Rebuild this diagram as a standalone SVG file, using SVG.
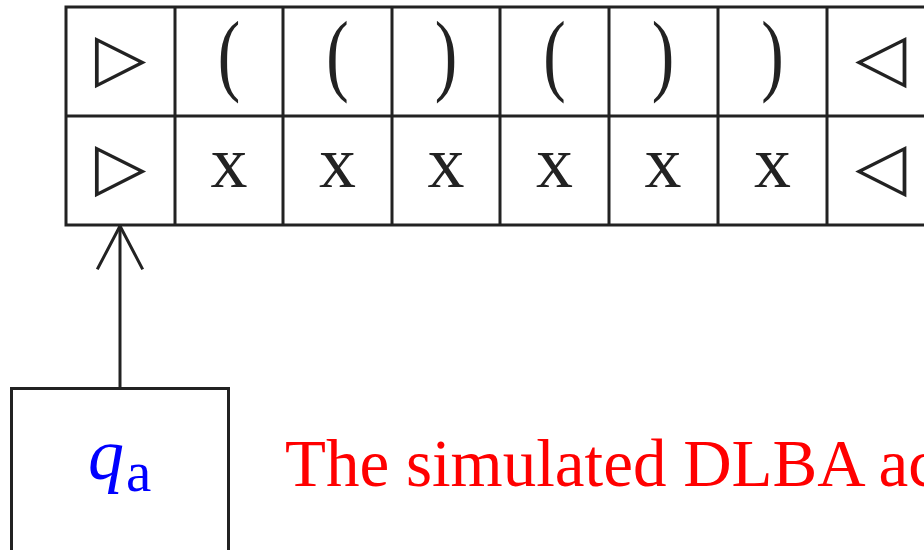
<svg xmlns="http://www.w3.org/2000/svg" width="924" height="550" viewBox="0 0 924 550">
<style>
.ln{stroke:#222;stroke-width:3;fill:none;stroke-linecap:square}
.sym{font-family:"DejaVu Sans",sans-serif;font-size:67px;fill:#222;text-anchor:middle}
.par{font-family:"Liberation Serif",serif;font-size:90px;fill:#222;text-anchor:middle}
.xx{font-family:"Liberation Serif",serif;font-size:74px;fill:#222;text-anchor:middle}
.q{font-family:"Liberation Serif",serif;fill:#0000ff}
.msg{font-family:"Liberation Serif",serif;font-size:67px;fill:#ff0000}
</style>
<rect width="924" height="550" fill="#fff"/>
<g id="tape">
<path class="ln" d="M66,7H926M66,116H926M66,225H926M66,7V225M175,7V225M283,7V225M392,7V225M500,7V225M609,7V225M718,7V225M827,7V225"/>
<g id="row1">
<text class="sym" x="120.5" y="80">▷</text>
<text class="par" transform="translate(229,84) scale(0.75,1)">(</text>
<text class="par" transform="translate(337.5,84) scale(0.75,1)">(</text>
<text class="par" transform="translate(446,84) scale(0.75,1)">)</text>
<text class="par" transform="translate(554.5,84) scale(0.75,1)">(</text>
<text class="par" transform="translate(663,84) scale(0.75,1)">)</text>
<text class="par" transform="translate(772.5,84) scale(0.75,1)">)</text>
<text class="sym" x="881" y="80">◁</text>
</g>
<g id="row2">
<text class="sym" x="120.5" y="189">▷</text>
<text class="xx" x="229" y="187">x</text>
<text class="xx" x="337.5" y="187">x</text>
<text class="xx" x="446" y="187">x</text>
<text class="xx" x="554.5" y="187">x</text>
<text class="xx" x="663" y="187">x</text>
<text class="xx" x="772.5" y="187">x</text>
<text class="sym" x="881" y="189">◁</text>
</g>
</g>
<g id="connectors">
<path class="ln" d="M120,388V226"/>
<path class="ln" stroke-linecap="round" stroke-linejoin="round" d="M98,268L120,226L142,268"/>
</g>
<g id="state">
<path class="ln" d="M11.5,552V388.5H228.5V552"/>
<text class="q" x="88" y="479"><tspan font-style="italic" font-size="72">q</tspan><tspan font-size="57" dx="2" dy="12">a</tspan></text>
</g>
<g id="caption">
<text class="msg" x="285" y="486">The simulated DLBA ac</text>
</g>
</svg>
